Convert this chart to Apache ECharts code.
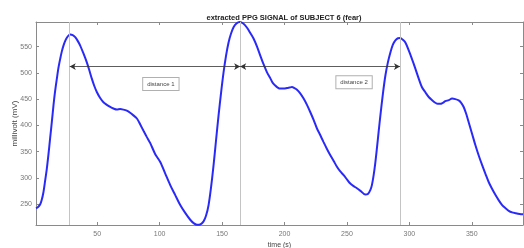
<!DOCTYPE html>
<html><head><meta charset="utf-8">
<script src="https://cdn.jsdelivr.net/npm/echarts@6/dist/echarts.min.js"></script>
<style>html,body{margin:0;padding:0;background:#fff}#c{width:524px;height:248px}</style>
</head><body><div id="c"></div>
<script>
const titleText = 'extracted PPG SIGNAL of SUBJECT 6 (fear)';
const xName = 'time (s)';
const yName = 'millivolt (mV)';
const xTicks = [50, 100, 150, 200, 250, 300, 350];
const yTicks = [250, 300, 350, 400, 450, 500, 550];
const timeS = [1,2.5,4.3,5.5,7,8.3,9.7,11,12.3,13.7,15,16.3,17.7,19,20.4,21.7,23,24.4,25.7,27,28.4,30.4,32.4,34.4,36.4,39,41.7,43.7,45.7,47.7,49.8,52.4,55,57.7,60.4,63,65.8,68.4,71,73.7,76.4,79,81.8,84.4,87,89.7,92.5,96.5,100.5,104.5,108.5,112.5,116.5,120.5,124.5,127.5,129.9,132.5,135.2,137.2,139.2,141.2,143.2,145.2,147.2,149.2,151.2,153.2,155.2,157.2,159.2,161.5,164,167,170,172.6,175.3,178,180.6,183.3,186,188.6,190.6,192.6,194.6,196.6,199.3,202,204,206,208,210,212.6,215.3,218,220.7,223.4,226,228.7,231.3,234,236.7,239.4,242,244.7,247.4,250,252.7,255.4,258,261.4,264.7,266.8,268.8,270,271.4,272.7,274,275.4,276.8,278.8,280.8,282.8,284.8,286.8,288.8,290.8,292.8,294.8,296.8,299.5,302,304.8,307.5,310,312.8,315.5,318.2,320.8,322.8,324.8,326.8,328.8,331.5,334.2,336.8,339.5,341.5,343.5,345.5,347.5,350.2,352.9,355.6,358.3,361,363.5,366.2,369,371.6,374.3,377,379.6,382.3,385,388.3,391];
const mV = [242,244,249,257,273,294,318,345,375,407,438,465,489,510,527,541,552,561,567,571,573,572,568,561,552,537,520,505,489,475,463,452,444,439,435,432,430,431,430,428,424,419,413,402,390,378,366,345,330,308,286,267,248,233,220,213,210.5,211,217,228,248,282,324,372,419,462,501,533,558,575,587,594,597,594,586,576,565,550,533,516,501,490,481,476,472,470,470,471,472,473,471,468,461,451,439,425,410,394,381,368,355,343,332,321,312,305,297,289,284,280,274,268,269,277,286,305,328,356,388,419,460,495,520,539,554,562,566,566.5,563,558,543,527,508,489,473,463,454,448,443,441,441,443,446,448,451,450,447.5,443,435,422,406,384,362,342,324,307,292,279,267,257,248,242,237,234,232.5,231,230.5];
const peakTimes = [28, 164.5, 292.5];
const arrowLevel = 512;
const distLabels = ['distance 1', 'distance 2'];
const distLabelPos = [[101, 479], [255.7, 482]];

const X_MIN = 1, X_MAX = 391, Y_MIN = 210, Y_MAX = 597;
const font = 'Liberation Sans, Arial, sans-serif';
const axisCol = '#8a8a8a';

const chart = echarts.init(document.getElementById('c'), null, {renderer: 'canvas'});
const series = timeS.map((t, i) => [t, mV[i]]);

function xAx(pos, showLabel) {
  return {
    type: 'value', position: pos, min: X_MIN, max: X_MAX,
    name: showLabel ? xName : '', nameLocation: 'middle', nameGap: 17, nameMoveOverlap: false,
    nameTextStyle: {fontSize: 7, color: '#444', fontFamily: font},
    axisLine: {show: true, onZero: false, lineStyle: {color: axisCol, width: 1}},
    axisTick: {show: true, inside: true, length: 3, customValues: xTicks, lineStyle: {color: axisCol}},
    axisLabel: {show: showLabel, customValues: xTicks, fontSize: 7, color: '#777', fontFamily: font, margin: 6},
    splitLine: {show: false}
  };
}
function yAx(pos, showLabel) {
  return {
    type: 'value', position: pos, min: Y_MIN, max: Y_MAX,
    name: showLabel ? yName : '', nameLocation: 'middle', nameGap: 17, nameMoveOverlap: false,
    nameTextStyle: {fontSize: 8, color: '#444', fontFamily: font},
    axisLine: {show: true, onZero: false, lineStyle: {color: axisCol, width: 1}},
    axisTick: {show: true, inside: true, length: 3, customValues: yTicks, lineStyle: {color: axisCol}},
    axisLabel: {show: showLabel, customValues: yTicks, fontSize: 7, color: '#777', fontFamily: font, margin: 4},
    splitLine: {show: false}
  };
}

const option = {
  animation: false,
  backgroundColor: '#fff',
  title: {
    text: titleText, left: 279, top: 9, textAlign: 'center',
    textStyle: {fontSize: 7.5, fontWeight: 'bold', color: '#222', fontFamily: font}
  },
  grid: {left: 36, right: 1, top: 22, bottom: 23, containLabel: false, outerBoundsMode: 'none'},
  xAxis: [xAx('bottom', true), xAx('top', false)],
  yAxis: [yAx('left', true), yAx('right', false)],
  series: [
    {
      type: 'line', data: [], xAxisIndex: 0, yAxisIndex: 0, silent: true,
      markLine: {
        silent: true, symbol: 'none',
        label: {show: false},
        lineStyle: {color: '#c4c4c4', width: 1, type: 'solid'},
        data: peakTimes.map(t => ({xAxis: t}))
      }
    },
    {
      type: 'line', data: series, xAxisIndex: 0, yAxisIndex: 0,
      showSymbol: false, smooth: 0.3, z: 3,
      lineStyle: {color: '#2a2af8', width: 2},
      markLine: {
        silent: true, symbol: ['arrow', 'arrow'], symbolSize: [5, 6],
        label: {show: false},
        lineStyle: {color: '#333', width: 0.8, type: 'solid'},
        data: [
          [{coord: [peakTimes[0], arrowLevel]}, {coord: [peakTimes[1], arrowLevel]}],
          [{coord: [peakTimes[1], arrowLevel]}, {coord: [peakTimes[2], arrowLevel]}]
        ]
      },
      markPoint: {
        silent: true, symbol: 'rect', symbolSize: 0,
        label: {
          show: true, position: 'inside', fontSize: 6, color: '#444', fontFamily: font,
          backgroundColor: '#fff', borderColor: '#b0b0b0', borderWidth: 1, padding: [3, 4],
          formatter: p => p.name
        },
        data: distLabels.map((n, i) => ({name: n, coord: distLabelPos[i]}))
      }
    }
  ]
};
chart.setOption(option);
</script></body></html>
